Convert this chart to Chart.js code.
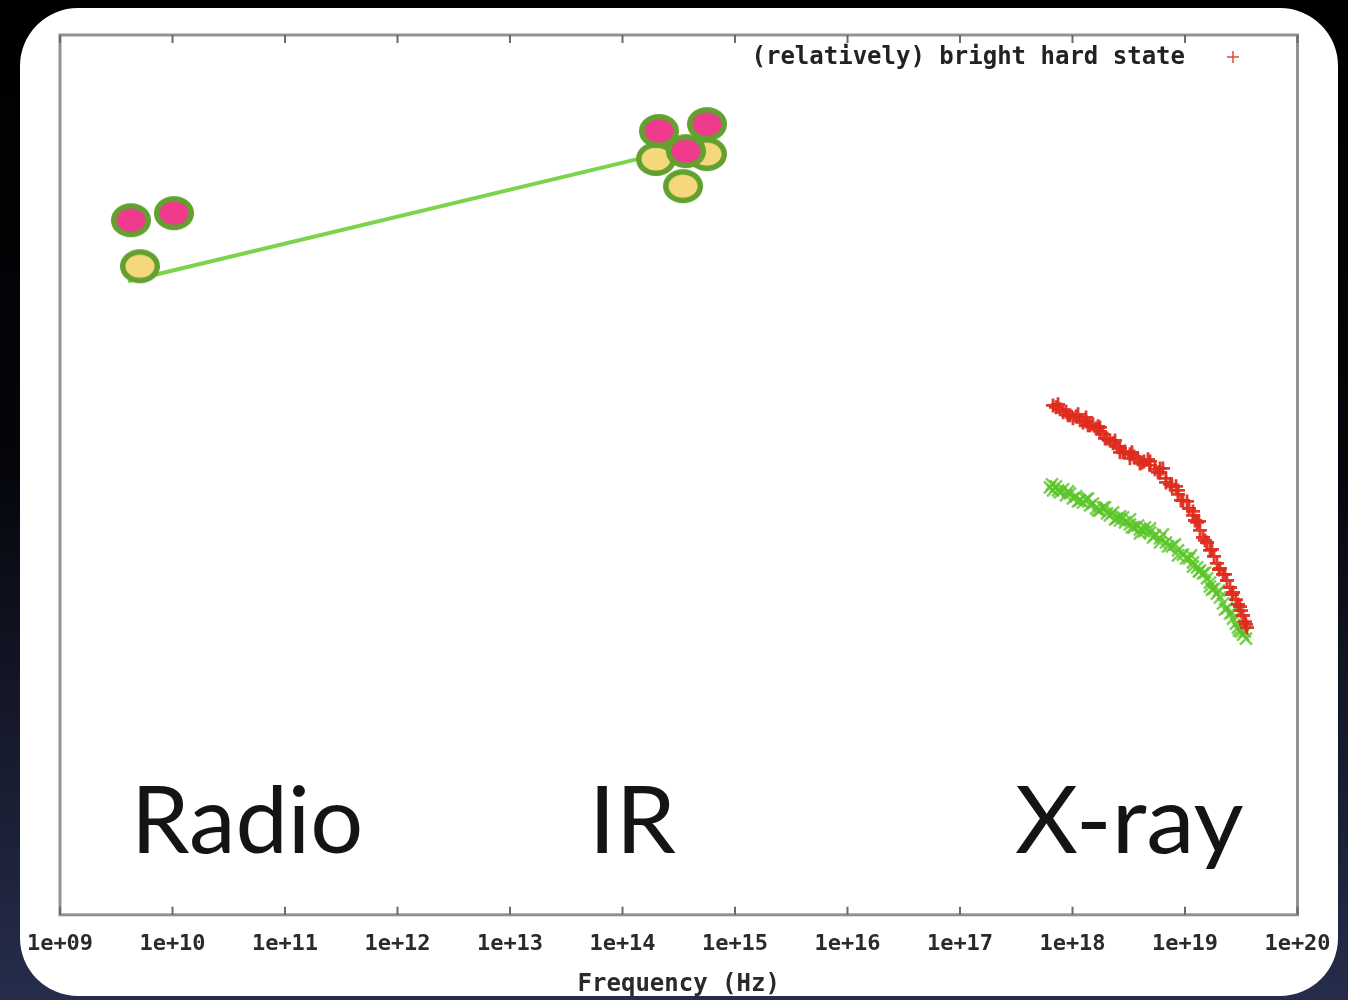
<!DOCTYPE html>
<html>
<head>
<meta charset="utf-8">
<title>Spectral energy distribution – hard state</title>
<script src="https://cdn.jsdelivr.net/npm/chart.js@4.4.1/dist/chart.umd.min.js"></script>
<style>
  html, body { margin: 0; padding: 0; background: #000; overflow: hidden; }
  canvas { display: block; }
</style>
</head>
<body>
<canvas id="sed" width="1348" height="1000"></canvas>
<script>
// Frequency axis: decades from 1e+09 to 1e+20 Hz (values are log10 of frequency)
const freqDecades = [9, 10, 11, 12, 13, 14, 15, 16, 17, 18, 19, 20];
const freqTickLabels = ['1e+09', '1e+10', '1e+11', '1e+12', '1e+13', '1e+14',
                        '1e+15', '1e+16', '1e+17', '1e+18', '1e+19', '1e+20'];

// Radio / IR photometry (log10 nu, log10 nuFnu) – brighter epoch (pink)
const brightLogNu   = [9.631, 10.013, 14.324, 14.751, 14.564];
const brightLogFlux = [-9.263, -9.215, -8.655, -8.608, -8.792];

// Radio / IR photometry – fainter epoch (yellow)
const faintLogNu   = [9.711, 14.298, 14.751, 14.538];
const faintLogFlux = [-9.577, -8.846, -8.812, -9.031];

// Flat-spectrum jet connecting radio and IR
const jetLogNu   = [9.604, 14.244];
const jetLogFlux = [-9.679, -8.826];

// X-ray spectrum, (relatively) bright hard state (red +)
const hardLogNu = [
  17.827, 17.853, 17.889, 17.916, 17.942, 17.978, 18.004, 18.031, 18.067, 18.093,
  18.120, 18.156, 18.182, 18.209, 18.244, 18.271, 18.307, 18.333, 18.360, 18.396,
  18.422, 18.467, 18.511, 18.547, 18.582, 18.636, 18.689, 18.733, 18.778, 18.831,
  18.884, 18.938, 18.982, 19.036, 19.071, 19.107, 19.133, 19.160, 19.196, 19.222,
  19.258, 19.284, 19.311, 19.338, 19.373, 19.400, 19.427, 19.453, 19.471, 19.498,
  19.516, 19.533, 19.551,
  18.244, 18.422, 18.600, 18.778, 18.938, 19.071, 18.511, 18.689, 18.120, 18.831,
  17.871, 17.960, 18.049, 18.138, 18.227, 18.289, 18.378, 18.449, 18.529, 18.618,
  18.671, 18.760, 18.804, 18.867, 18.920, 18.964, 19.018, 19.089, 19.124, 19.178,
  19.240, 19.302, 19.356, 19.418, 19.489, 19.542
];
const hardLogFlux = [
  -10.526, -10.539, -10.553, -10.573, -10.567, -10.594, -10.614, -10.601, -10.628, -10.642,
  -10.635, -10.662, -10.655, -10.683, -10.703, -10.724, -10.751, -10.765, -10.785, -10.805,
  -10.819, -10.840, -10.860, -10.874, -10.894, -10.908, -10.935, -10.962, -10.983, -11.024,
  -11.078, -11.133, -11.174, -11.229, -11.276, -11.324, -11.379, -11.427, -11.461, -11.515,
  -11.556, -11.604, -11.638, -11.679, -11.720, -11.768, -11.802, -11.850, -11.884, -11.925,
  -11.959, -12.000, -12.041,
  -10.676, -10.846, -10.922, -10.956, -11.106, -11.249, -10.887, -10.908, -10.608, -11.051,
  -10.519, -10.594, -10.587, -10.662, -10.669, -10.751, -10.765, -10.846, -10.846, -10.915,
  -10.894, -10.983, -10.956, -11.065, -11.078, -11.174, -11.181, -11.311, -11.317, -11.447,
  -11.508, -11.645, -11.679, -11.816, -11.898, -12.020
];

// X-ray spectrum, fainter hard state (green x)
const fadeLogNu = [
  17.800, 17.827, 17.853, 17.889, 17.916, 17.942, 17.978, 18.004, 18.031, 18.067,
  18.093, 18.120, 18.156, 18.182, 18.209, 18.244, 18.271, 18.307, 18.333, 18.360,
  18.396, 18.422, 18.467, 18.511, 18.547, 18.582, 18.600, 18.636, 18.689, 18.733,
  18.778, 18.831, 18.884, 18.938, 18.982, 19.036, 19.071, 19.107, 19.133, 19.160,
  19.196, 19.222, 19.258, 19.284, 19.311, 19.338, 19.373, 19.400, 19.427, 19.453,
  19.471, 19.498, 19.516, 19.542,
  18.689, 18.778, 18.938, 18.511, 19.071, 19.222, 18.600, 18.422,
  17.818, 17.871, 17.960, 18.049, 18.138, 18.227, 18.289, 18.378, 18.449, 18.529,
  18.644, 18.716, 18.804, 18.849, 18.911, 19.009, 19.053, 19.124, 19.178, 19.240,
  19.302, 19.356, 19.418, 19.480, 19.533
];
const fadeLogFlux = [
  -11.085, -11.106, -11.078, -11.119, -11.099, -11.140, -11.126, -11.160, -11.147, -11.174,
  -11.188, -11.167, -11.208, -11.195, -11.229, -11.242, -11.222, -11.263, -11.276, -11.256,
  -11.297, -11.311, -11.324, -11.338, -11.358, -11.345, -11.372, -11.386, -11.392, -11.413,
  -11.433, -11.461, -11.488, -11.515, -11.543, -11.570, -11.597, -11.631, -11.652, -11.672,
  -11.706, -11.734, -11.775, -11.809, -11.836, -11.877, -11.911, -11.945, -11.980, -12.014,
  -12.041, -12.068, -12.089, -12.116,
  -11.365, -11.461, -11.549, -11.304, -11.625, -11.761, -11.399, -11.283,
  -11.065, -11.106, -11.113, -11.181, -11.160, -11.242, -11.222, -11.304, -11.290, -11.358,
  -11.358, -11.427, -11.406, -11.488, -11.474, -11.570, -11.549, -11.659, -11.666, -11.782,
  -11.789, -11.918, -11.939, -12.061, -12.068
];

// Band annotations
const bandNames = ['Radio', 'IR', 'X-ray'];

const legendText = '(relatively) bright hard state';

// ---------------------------------------------------------------------------

const W = 1348, H = 1000;
const MONO = '"DejaVu Sans Mono", "Liberation Mono", monospace';

const pairs = (xs, ys) => xs.map((x, i) => ({ x: x, y: ys[i] }));

// Elliptical marker with a green ring, used as a point style
function ellipseMarker(fill) {
  const c = document.createElement('canvas');
  c.width = 44; c.height = 38;
  const g = c.getContext('2d');
  g.beginPath();
  g.ellipse(22, 19, 17.3, 14.2, 0, 0, Math.PI * 2);
  g.fillStyle = fill;
  g.fill();
  g.lineWidth = 5.5;
  g.strokeStyle = '#62a12f';
  g.stroke();
  return c;
}
const pinkMarker = ellipseMarker('#ef3a8e');
const yellowMarker = ellipseMarker('#f5d87c');

function roundRectPath(ctx, x, y, w, h, r) {
  ctx.moveTo(x + r, y);
  ctx.arcTo(x + w, y, x + w, y + h, r);
  ctx.arcTo(x + w, y + h, x, y + h, r);
  ctx.arcTo(x, y + h, x, y, r);
  ctx.arcTo(x, y, x + w, y, r);
  ctx.closePath();
}

// Text stretched/condensed to a given width
function drawFitted(ctx, text, left, baseline, width, size) {
  ctx.font = size + 'px Lato, "Open Sans", sans-serif';
  const m = ctx.measureText(text);
  const w = m.actualBoundingBoxLeft + m.actualBoundingBoxRight;
  ctx.save();
  ctx.translate(left, baseline);
  ctx.scale(width / w, 1);
  ctx.fillText(text, m.actualBoundingBoxLeft, 0);
  ctx.restore();
}

const panel = { x: 20, y: 8, w: 1318, h: 988, r: 58 };

const slidePlugin = {
  id: 'slide',
  beforeDraw(chart) {
    const ctx = chart.ctx;
    ctx.save();
    ctx.fillStyle = '#ffffff';
    ctx.fillRect(0, 0, W, H);
    ctx.restore();
  },
  beforeDatasetsDraw(chart) {
    const ctx = chart.ctx;
    const { left, right, top, bottom } = chart.chartArea;
    const xs = chart.scales.x;
    ctx.save();

    // plot border
    ctx.strokeStyle = '#929292';
    ctx.lineWidth = 3;
    ctx.strokeRect(left, top, right - left, bottom - top);

    // inward tick marks, mirrored on the top edge
    ctx.strokeStyle = '#6a6a6a';
    ctx.lineWidth = 2;
    xs.ticks.forEach(t => {
      const px = xs.getPixelForValue(t.value);
      ctx.beginPath();
      ctx.moveTo(px, bottom); ctx.lineTo(px, bottom - 8);
      ctx.moveTo(px, top); ctx.lineTo(px, top + 8);
      ctx.stroke();
    });

    // key
    ctx.fillStyle = '#222';
    ctx.font = 'bold 24px ' + MONO;
    ctx.textAlign = 'right';
    ctx.textBaseline = 'middle';
    ctx.fillText(legendText, 1185, 58);
    ctx.strokeStyle = '#e0483c';
    ctx.lineWidth = 1.5;
    ctx.beginPath();
    ctx.moveTo(1227, 57); ctx.lineTo(1239, 57);
    ctx.moveTo(1233, 51); ctx.lineTo(1233, 63);
    ctx.stroke();

    // band names
    ctx.fillStyle = '#141414';
    ctx.textAlign = 'left';
    ctx.textBaseline = 'alphabetic';
    drawFitted(ctx, bandNames[0], 139, 853, 221, 94);
    drawFitted(ctx, bandNames[1], 597, 853, 79, 94);
    drawFitted(ctx, bandNames[2], 1015, 853, 228, 94);
    ctx.restore();
  },
  afterDraw(chart) {
    const ctx = chart.ctx;
    ctx.save();
    ctx.beginPath();
    ctx.rect(0, 0, W, H);
    roundRectPath(ctx, panel.x, panel.y, panel.w, panel.h, panel.r);
    const g = ctx.createLinearGradient(0, 0, 0, H);
    g.addColorStop(0, '#000000');
    g.addColorStop(0.45, '#04050a');
    g.addColorStop(1, '#262d4b');
    ctx.fillStyle = g;
    ctx.fill('evenodd');
    ctx.restore();
  }
};

new Chart(document.getElementById('sed'), {
  type: 'scatter',
  data: {
    datasets: [
      {
        label: legendText,
        data: pairs(hardLogNu, hardLogFlux),
        pointStyle: 'cross',
        pointRadius: 7,
        borderWidth: 2.8,
        borderColor: 'rgba(222, 42, 28, 0.92)',
        backgroundColor: 'rgba(222, 42, 28, 0.92)',
        order: 1
      },
      {
        label: 'fainter hard state',
        data: pairs(fadeLogNu, fadeLogFlux),
        pointStyle: 'crossRot',
        pointRadius: 8.5,
        borderWidth: 2.4,
        borderColor: 'rgba(88, 196, 38, 0.8)',
        backgroundColor: 'rgba(88, 196, 38, 0.8)',
        order: 2
      },
      {
        label: 'radio/IR (bright)',
        data: pairs(brightLogNu, brightLogFlux),
        pointStyle: pinkMarker,
        pointRadius: 18,
        order: 3
      },
      {
        label: 'radio/IR (faint)',
        data: pairs(faintLogNu, faintLogFlux),
        pointStyle: yellowMarker,
        pointRadius: 18,
        order: 4
      },
      {
        type: 'line',
        label: 'jet',
        data: pairs(jetLogNu, jetLogFlux),
        borderColor: '#7dd34c',
        borderWidth: 4,
        pointRadius: 0,
        showLine: true,
        fill: false,
        order: 5
      }
    ]
  },
  options: {
    responsive: false,
    animation: false,
    devicePixelRatio: 1,
    events: [],
    layout: { padding: { left: 60, right: 50.5, top: 35, bottom: 2.8 } },
    plugins: { legend: { display: false }, tooltip: { enabled: false } },
    scales: {
      x: {
        type: 'linear',
        min: 9,
        max: 20,
        afterBuildTicks(scale) {
          scale.ticks = freqDecades.map(v => ({ value: v }));
        },
        ticks: {
          callback: (v) => freqTickLabels[freqDecades.indexOf(v)],
          font: { family: MONO, weight: 'bold', size: 22 },
          color: '#2a2a2a',
          padding: 16,
          maxRotation: 0,
          autoSkip: false
        },
        grid: { display: false, drawTicks: false },
        border: { display: false },
        title: {
          display: true,
          text: 'Frequency (Hz)',
          font: { family: MONO, weight: 'bold', size: 24, lineHeight: 1 },
          color: '#2a2a2a',
          padding: { top: 0, bottom: 0 }
        }
      },
      y: {
        type: 'linear',
        min: -14,
        max: -8,
        display: false
      }
    }
  },
  plugins: [slidePlugin]
});
</script>
</body>
</html>
